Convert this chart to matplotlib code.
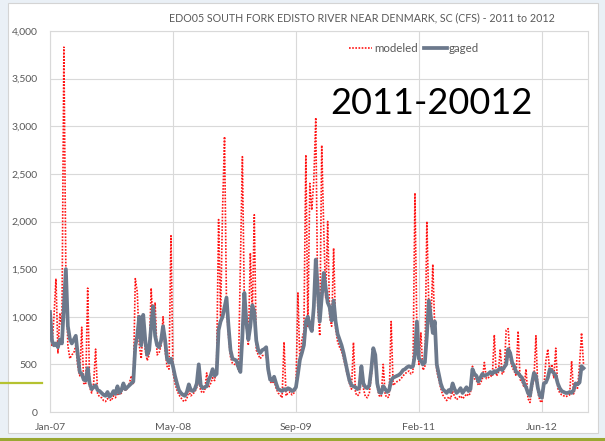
import matplotlib
matplotlib.use("Agg")
import matplotlib.pyplot as plt
import matplotlib.dates as mdates
from matplotlib.lines import Line2D
from matplotlib.patches import Rectangle
import numpy as np
import pandas as pd

# Daily flow (cfs) sampled every 8 days from 11 Jan 2007
start_date = "2007-01-11"
step_days = 8

gaged = [
    1050, 750, 700, 720, 680, 760, 720, 1100, 1500, 900,
    770, 720, 760, 800, 600, 420, 400, 340, 330, 460,
    300, 240, 260, 280, 230, 220, 200, 180, 170, 210,
    160, 180, 220, 190, 270, 200, 230, 300, 240, 260,
    280, 300, 320, 690, 800, 1000, 700, 1020, 760, 600,
    650, 900, 1110, 800, 700, 680, 750, 900, 760, 560,
    520, 560, 480, 380, 300, 230, 200, 180, 170, 210,
    290, 230, 220, 240, 300, 500, 280, 250, 260, 270,
    340, 380, 450, 380, 400, 860, 950, 1000, 1100, 1200,
    900, 650, 560, 550, 540, 470, 420, 800, 1250, 950,
    760, 900, 1120, 1050, 750, 650, 620, 650, 660, 680,
    450, 340, 330, 370, 300, 240, 230, 220, 240, 230,
    250, 240, 220, 230, 260, 400, 550, 620, 700, 950,
    1000, 900, 850, 1100, 1600, 1300, 950, 1200, 1460, 1300,
    1150, 1100, 960, 1170, 950, 820, 760, 700, 620, 520,
    420, 330, 280, 270, 260, 240, 260, 480, 300, 260,
    250, 280, 450, 670, 600, 300, 210, 200, 270, 240,
    210, 230, 330, 360, 370, 380, 390, 410, 440, 450,
    470, 480, 470, 480, 600, 950, 560, 540, 500, 520,
    800, 1170, 1000, 830, 950, 500, 400, 300, 240, 220,
    200, 230, 210, 300, 240, 200, 220, 250, 200, 230,
    260, 220, 240, 450, 400, 380, 320, 360, 400, 380,
    390, 400, 420, 400, 430, 420, 440, 460, 440, 470,
    500, 660, 620, 520, 480, 420, 410, 380, 360, 300,
    260, 200, 170, 300, 410, 380, 250, 170, 150, 300,
    310, 360, 450, 430, 410, 380, 300, 250, 220, 210,
    200, 200, 210, 200, 230, 300, 290, 310, 480, 460,
]

modeled = [
    980, 700, 1000, 1400, 620, 1040, 880, 3830, 1450, 700,
    560, 600, 620, 700, 480, 380, 890, 300, 290, 1300,
    260, 200, 300, 660, 190, 160, 150, 120, 110, 140,
    130, 120, 170, 150, 200, 180, 200, 310, 220, 250,
    300, 380, 300, 1400, 1260, 700, 560, 900, 650, 540,
    600, 1300, 900, 1150, 600, 620, 700, 1000, 650, 480,
    450, 1850, 420, 300, 230, 180, 150, 120, 110, 140,
    220, 170, 190, 210, 260, 330, 220, 200, 220, 410,
    260, 300, 360, 330, 500, 2020, 1000, 2120, 2890, 1100,
    800, 580, 510, 500, 500, 440, 1580, 2680, 1100, 900,
    700, 1670, 1000, 2070, 650, 600, 560, 590, 600, 600,
    420, 320, 300, 330, 250, 200, 180, 150, 735, 170,
    200, 210, 180, 200, 250, 1250, 500, 760, 850, 2700,
    900, 2400, 2120, 2430, 3090, 1100, 800, 2800, 1930, 1200,
    2000, 1000, 900, 1720, 880, 740, 680, 640, 560, 480,
    380, 300, 240, 730, 200, 170, 190, 420, 250, 160,
    150, 200, 380, 600, 520, 260, 170, 160, 500, 180,
    150, 160, 950, 280, 300, 320, 330, 350, 380, 400,
    420, 430, 400, 420, 2300, 800, 500, 830, 440, 470,
    2000, 1100, 900, 1550, 850, 430, 340, 250, 180, 150,
    120, 160, 140, 220, 160, 130, 150, 170, 140, 160,
    190, 170, 200, 480, 350, 330, 280, 300, 350, 520,
    350, 360, 380, 370, 810, 380, 400, 660, 400, 430,
    860, 875, 560, 470, 430, 380, 850, 340, 320, 260,
    450, 140, 100, 250, 350, 800, 200, 120, 100, 260,
    535, 660, 400, 500, 360, 670, 250, 200, 180, 170,
    160, 170, 180, 535, 190, 260, 250, 500, 830, 500,
]

series_names = ["modeled", "gaged"]
title_text = "EDO05 SOUTH FORK EDISTO RIVER NEAR DENMARK, SC (CFS) - 2011 to 2012"
overlay_text = "2011-20012"

# Date axis: major unit of 496 days, shown as mmm-yy
axis_span_days = 2170
major_unit_days = 496
y_max = 4000
y_step = 500

dates = pd.date_range(start_date, periods=len(gaged), freq=f"{step_days}D")
t0 = pd.Timestamp(start_date)

W, H = 605, 441
fig = plt.figure(figsize=(W / 100, H / 100), dpi=100)
fig.patch.set_facecolor("#eaf0f6")

# White chart area with a thin border
fig.patches.append(Rectangle((8 / W, 1 - 433 / H), 590 / W, 430 / H,
                             transform=fig.transFigure, facecolor="white",
                             edgecolor="#d4d4d4", linewidth=0.8, zorder=-5))
# Slide accent lines
fig.lines.append(Line2D([0, 1], [1 - 438.5 / H, 1 - 438.5 / H], transform=fig.transFigure,
                        color="#9aa832", linewidth=2.2, zorder=-4))
fig.lines.append(Line2D([0, 42 / W], [1 - 383 / H, 1 - 383 / H], transform=fig.transFigure,
                        color="#b5c230", linewidth=1.6, zorder=-4))

ax = fig.add_axes([50 / W, 1 - 412 / H, 538 / W, 381 / H])
ax.set_zorder(2)
ax.set_facecolor("white")

ax.plot(dates, modeled, color="#ff1414", linewidth=1.2, linestyle=(0, (1, 0.9)),
        label=series_names[0], zorder=3)
ax.plot(dates, gaged, color="#6c798c", linewidth=2.7, label=series_names[1],
        zorder=4, solid_joinstyle="round")

ax.set_xlim(t0, t0 + pd.Timedelta(days=axis_span_days))
ax.set_ylim(0, y_max)

xticks = [t0 + pd.Timedelta(days=major_unit_days * k) for k in range(5)]
ax.set_xticks(xticks)
ax.xaxis.set_major_formatter(mdates.DateFormatter("%b-%y"))
yticks = np.arange(0, y_max + 1, y_step)
ax.set_yticks(yticks)
ax.set_yticklabels([f"{v:,}" for v in yticks])

ax.grid(True, color="#d9d9d9", linewidth=0.8, zorder=0)
ax.set_axisbelow(True)
for s in ax.spines.values():
    s.set_color("#d9d9d9")
    s.set_linewidth(0.8)
ax.tick_params(length=0, labelsize=7.5, labelcolor="#595959", pad=9)
ax.tick_params(axis="x", pad=8)
for lab in ax.get_xticklabels() + ax.get_yticklabels():
    lab.set_family("Lato")

fig.text(362 / W, 1 - 17.5 / H, title_text, ha="center", va="center",
         fontsize=7.7, color="#595959", family="Lato", zorder=5)

leg = ax.legend(loc="upper left", bbox_to_anchor=(299 / 538, 1 - 12 / 381),
                ncol=2, frameon=False, fontsize=8.3, handlelength=2.0,
                handletextpad=0.2, columnspacing=0.5, borderpad=0,
                borderaxespad=0)
for t in leg.get_texts():
    t.set_color("#595959")
    t.set_family("Lato")

fig.text(431 / W, 1 - 103 / H, overlay_text, ha="center", va="center",
         fontsize=26, color="black", family="Lato", zorder=5)

fig.savefig("out.png", dpi=100, facecolor=fig.get_facecolor())
